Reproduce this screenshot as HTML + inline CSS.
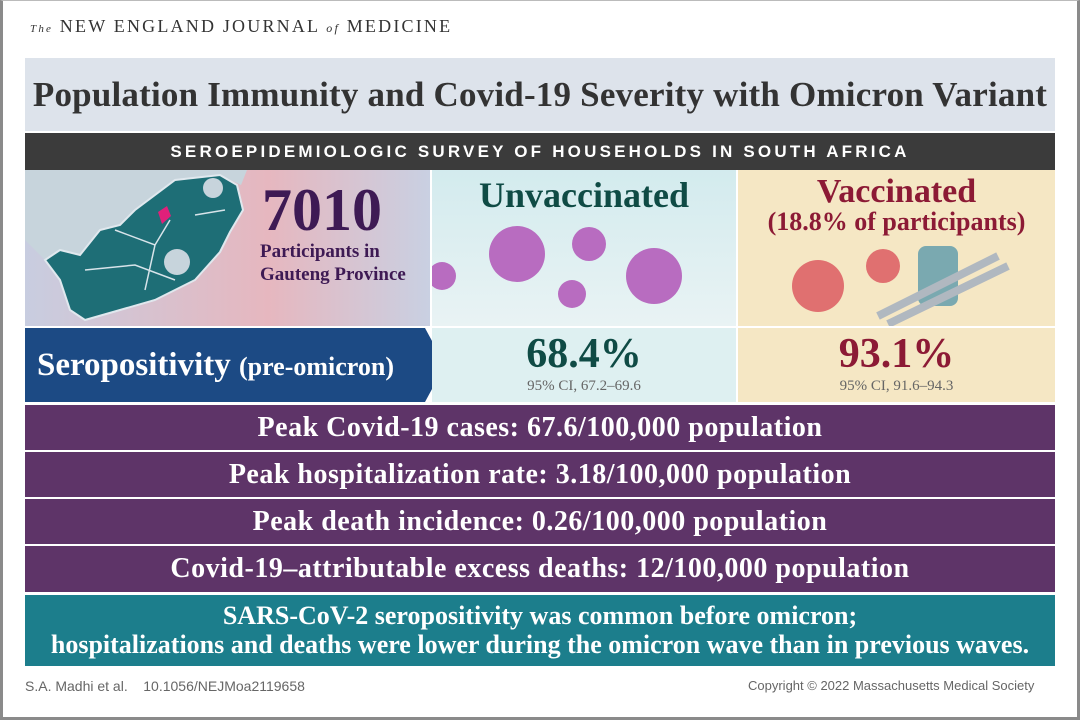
<!DOCTYPE html>
<html><head><meta charset="utf-8"><style>
*{margin:0;padding:0;box-sizing:border-box}
body{width:1080px;height:720px;background:#fff;position:relative;overflow:hidden;font-family:"Liberation Serif",serif}
.a{position:absolute}
.c{text-align:center}
.frame{left:0;top:0;width:1080px;height:720px;border:3px solid #8a8a8a;border-top:1px solid #bbb}
.row{left:25px;width:1030px;background:#5e3468;color:#fff;font-weight:bold;font-size:28px;letter-spacing:0.5px;display:flex;align-items:center;justify-content:center}
</style></head><body>
<div class="a frame"></div>
<div class="a" style="left:30px;top:16px;font-size:18px;letter-spacing:2.2px;color:#333"><i style="font-size:11px">The</i> NEW ENGLAND JOURNAL <i style="font-size:12px">of</i> MEDICINE</div>
<div class="a c" style="left:25px;top:58px;width:1030px;height:73px;background:#dde3eb;font-size:35px;letter-spacing:0.2px;font-weight:bold;color:#333;line-height:73px">Population Immunity and Covid-19 Severity with Omicron Variant</div>
<div class="a c" style="left:25px;top:133px;width:1030px;height:37px;background:#3b3b3b;color:#fff;font-family:'Liberation Sans',sans-serif;font-weight:bold;font-size:17px;letter-spacing:3.2px;line-height:37px">SEROEPIDEMIOLOGIC SURVEY OF HOUSEHOLDS IN SOUTH AFRICA</div>
<div class="a" style="left:25px;top:170px;width:405px;height:156px;background:linear-gradient(90deg,#c8cde0,#e6b7bf 60%,#c9d0e2)"></div>
<svg class="a" style="left:25px;top:170px" width="225" height="156">
<path d="M0 0 H222 L216 15 L195 5 L150 10 L110 40 L95 55 L75 60 L55 85 L35 80 L20 90 L0 70Z" fill="#c7d4dc"/>
<path d="M110 40 L150 10 L195 5 L212 15 L218 40 L205 62 L195 82 L170 110 L130 130 L95 140 L60 150 L45 140 L35 110 L20 90 L35 80 L55 85 L75 60 L95 55Z" fill="#1e6e76" stroke="#e0e8ee" stroke-width="2"/>
<path d="M90 60 L130 75 L145 50 M60 100 L110 95 L150 110 M130 75 L120 120 M170 45 L200 40" stroke="#d8e4ea" stroke-width="1.5" fill="none"/>
<circle cx="188" cy="18" r="10" fill="#c7d4dc"/>
<circle cx="152" cy="92" r="13" fill="#c7d4dc"/>
<path d="M133 42 L142 36 L146 46 L137 54Z" fill="#e0207a"/>
</svg>
<div class="a" style="left:262px;top:178px;font-size:60px;font-weight:bold;color:#3e1a54;line-height:64px">7010</div>
<div class="a" style="left:260px;top:240px;font-size:19px;font-weight:bold;color:#3e1a54;line-height:23px">Participants in<br>Gauteng Province</div>
<div class="a c" style="left:432px;top:170px;width:304px;height:156px;background:linear-gradient(#d3ebee,#e9f3f4)"><div style="font-size:36px;font-weight:bold;color:#0f4b45;margin-top:4px">Unvaccinated</div>
<svg width="304" height="100"><g fill="#b86cc0"><circle cx="85" cy="38" r="28"/><circle cx="157" cy="28" r="17"/><circle cx="140" cy="78" r="14"/><circle cx="222" cy="60" r="28"/><circle cx="10" cy="60" r="14"/></g></svg></div>
<div class="a c" style="left:738px;top:170px;width:317px;height:156px;background:#f5e7c4"><div style="font-size:34px;font-weight:bold;color:#8c1a35;margin-top:6px;line-height:32px">Vaccinated</div><div style="font-size:26px;font-weight:bold;color:#8c1a35;line-height:28px">(18.8% of participants)</div>
<svg width="317" height="90"><g fill="#e07070"><circle cx="80" cy="50" r="26"/><circle cx="145" cy="30" r="17"/></g><rect x="180" y="10" width="40" height="60" rx="8" fill="#7aa9b0"/><path d="M140 80 L260 20 M150 88 L270 30" stroke="#b0b8c0" stroke-width="8"/></svg></div>
<div class="a" style="left:25px;top:328px;width:420px;height:74px;background:#1c4a84;clip-path:polygon(0 0,400px 0,420px 50%,400px 100%,0 100%);color:#fff;font-weight:bold;font-size:33px;line-height:74px;padding-left:12px">Seropositivity <span style="font-size:26px">(pre-omicron)</span></div>
<div class="a c" style="left:432px;top:328px;width:304px;height:74px;background:#def0f1"><div style="font-size:42px;font-weight:bold;color:#0f4b45;line-height:48px;margin-top:2px">68.4%</div><div style="font-size:15px;color:#666">95% CI, 67.2–69.6</div></div>
<div class="a c" style="left:738px;top:328px;width:317px;height:74px;background:#f5e7c4"><div style="font-size:42px;font-weight:bold;color:#8c1a35;line-height:48px;margin-top:2px">93.1%</div><div style="font-size:15px;color:#666">95% CI, 91.6–94.3</div></div>
<div class="a row" style="top:405px;height:45px">Peak Covid-19 cases: 67.6/100,000 population</div>
<div class="a row" style="top:452px;height:45px">Peak hospitalization rate: 3.18/100,000 population</div>
<div class="a row" style="top:499px;height:45px">Peak death incidence: 0.26/100,000 population</div>
<div class="a row" style="top:546px;height:46px">Covid-19–attributable excess deaths: 12/100,000 population</div>
<div class="a c" style="left:25px;top:595px;width:1030px;height:71px;background:#1c7e8c;color:#fff;font-weight:bold;font-size:26px;line-height:29px;padding-top:6px">SARS-CoV-2 seropositivity was common before omicron;<br>hospitalizations and deaths were lower during the omicron wave than in previous waves.</div>
<div class="a" style="left:25px;top:678px;font-family:'Liberation Sans',sans-serif;font-size:14px;color:#666">S.A. Madhi et al. &nbsp;&nbsp; 10.1056/NEJMoa2119658</div>
<div class="a" style="left:748px;top:678px;font-family:'Liberation Sans',sans-serif;font-size:13px;color:#666">Copyright © 2022 Massachusetts Medical Society</div>
</body></html>
